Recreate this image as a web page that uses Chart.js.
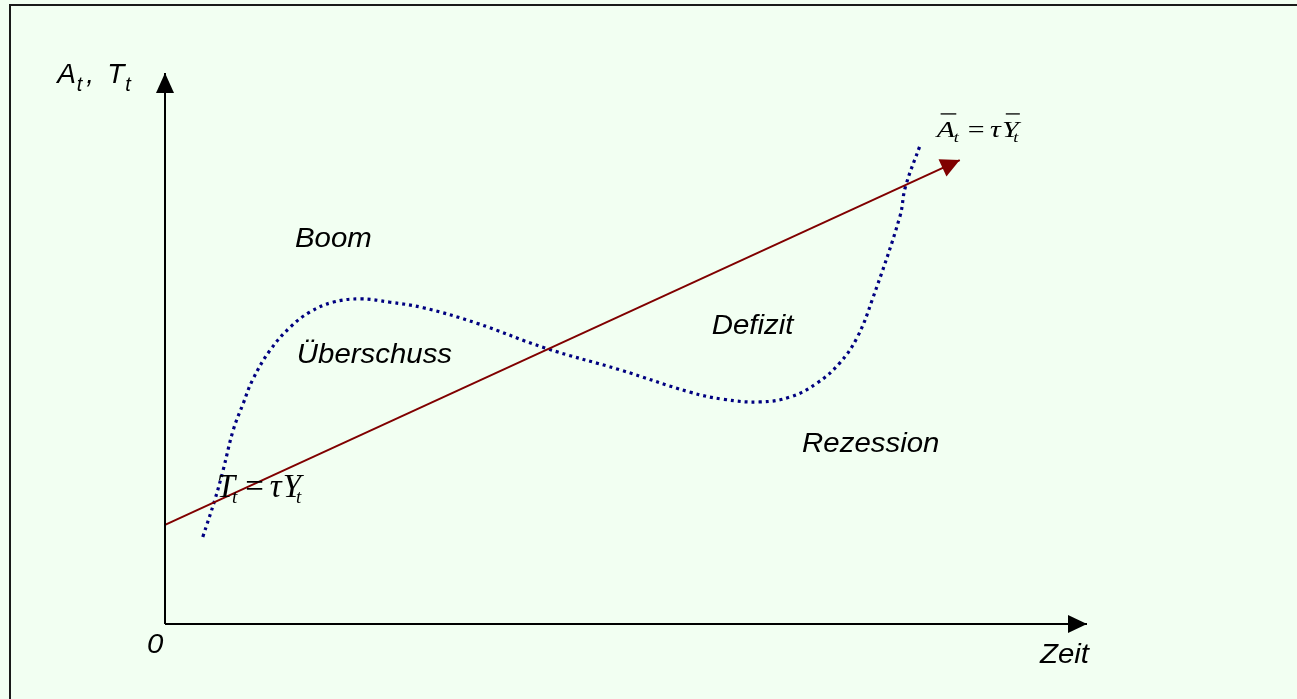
<!DOCTYPE html>
<html>
<head>
<meta charset="utf-8">
<title>Konjunkturzyklus</title>
<script src="https://cdn.jsdelivr.net/npm/chart.js@4/dist/chart.umd.min.js"></script>
<style>
  html, body { margin: 0; padding: 0; background: #f2fff2; overflow: hidden; }
  canvas { display: block; }
</style>
</head>
<body>
<canvas id="chart" width="1297" height="699"></canvas>
<script>
// Staatsausgaben A_t (Konjunktur) und Steuern T_t ueber die Zeit
var cycleX = [4.1, 5.4, 6.3, 7.4, 8.5, 9.5, 11.4, 13.6, 15.7, 18.2, 21.2, 24.4, 28.0, 33.8, 41.2, 49.4, 56.9, 60.5, 64.5, 67.8, 70.7, 73.2, 75.1, 76.7, 79.7, 80.3, 81.9];
var cycleY = [15.8, 22.5, 27.9, 35.2, 40.1, 44.3, 49.7, 53.9, 56.6, 58.4, 59.0, 58.4, 57.4, 54.6, 50.1, 46.1, 42.1, 40.8, 40.3, 41.2, 43.7, 47.4, 52.1, 58.8, 73.9, 79.3, 86.9];

var taxX = [0, 86.2];
var taxY = [18.0, 84.2];

// Achsen (Ursprung bis Pfeilspitze)
var xAxisX = [0, 100];
var xAxisY = [0, 0];
var yAxisX = [0, 0];
var yAxisY = [0, 100];

var regionLabels = ['Boom', 'Überschuss', 'Defizit', 'Rezession', '0', 'Zeit'];
var regionX = [14.1, 14.3, 59.3, 69.1, -1.95, 94.9];
var regionY = [68.4, 47.4, 52.6, 31.2, -5.3, -7.1];

function pts(xs, ys) {
  return xs.map(function(x, i) { return {x: x, y: ys[i]}; });
}

var SANS = '"Liberation Sans", Arial, sans-serif';
var SERIF = '"Liberation Serif", "Times New Roman", serif';

// Text aus Teilen (Index, Ueberstrich) hintereinander setzen
function drawParts(ctx, parts, x, y, sx) {
  sx = sx || 1;
  ctx.save();
  ctx.translate(x, y);
  ctx.scale(sx, 1);
  var cx = 0;
  parts.forEach(function(p) {
    ctx.font = p.font;
    var w = ctx.measureText(p.t).width;
    ctx.fillText(p.t, cx, p.dy || 0);
    if (p.bar) {
      ctx.beginPath();
      ctx.lineWidth = 1.3;
      ctx.moveTo(cx + 3, -p.bar);
      ctx.lineTo(cx + w + 1, -p.bar);
      ctx.stroke();
    }
    cx += w + (p.gap || 0);
  });
  ctx.restore();
}

function arrowHead(ctx, fx, fy, tx, ty, len, half, color) {
  var a = Math.atan2(ty - fy, tx - fx);
  ctx.save();
  ctx.translate(tx, ty);
  ctx.rotate(a);
  ctx.fillStyle = color;
  ctx.beginPath();
  ctx.moveTo(0, 0);
  ctx.lineTo(-len, -half);
  ctx.lineTo(-len, half);
  ctx.closePath();
  ctx.fill();
  ctx.restore();
}

var decor = {
  id: 'decor',
  beforeDraw: function(chart) {
    var ctx = chart.ctx;
    ctx.save();
    ctx.fillStyle = '#f2fff2';
    ctx.fillRect(0, 0, chart.width, chart.height);
    ctx.strokeStyle = '#1a1a1a';
    ctx.lineWidth = 2;
    ctx.beginPath();
    ctx.moveTo(10, chart.height);
    ctx.lineTo(10, 5);
    ctx.lineTo(chart.width, 5);
    ctx.stroke();
    ctx.restore();
  },
  afterDatasetsDraw: function(chart) {
    var ctx = chart.ctx, sx = chart.scales.x, sy = chart.scales.y;
    ctx.save();
    chart.data.datasets.forEach(function(ds) {
      if (!ds.arrow) return;
      var n = ds.data.length;
      var a = ds.data[n - 2], b = ds.data[n - 1];
      arrowHead(ctx, sx.getPixelForValue(a.x), sy.getPixelForValue(a.y),
        sx.getPixelForValue(b.x), sy.getPixelForValue(b.y),
        ds.arrow[0], ds.arrow[1], ds.borderColor);
    });

    ctx.fillStyle = '#000';
    ctx.textBaseline = 'alphabetic';
    regionLabels.forEach(function(t, i) {
      ctx.save();
      ctx.translate(sx.getPixelForValue(regionX[i]), sy.getPixelForValue(regionY[i]));
      ctx.scale(1.05, 1);
      ctx.font = 'italic 28px ' + SANS;
      ctx.fillText(t, 0, 0);
      ctx.restore();
    });

    var big = 'italic 28px ' + SANS, sub = 'italic 20px ' + SANS;
    drawParts(ctx, [
      {t: 'A', font: big, gap: 1},
      {t: 't', font: sub, dy: 8, gap: 4},
      {t: ',', font: big, gap: 13},
      {t: 'T', font: big, gap: 1},
      {t: 't', font: sub, dy: 8}
    ], sx.getPixelForValue(-11.7), sy.getPixelForValue(98.2));

    ctx.strokeStyle = '#000';
    drawParts(ctx, [
      {t: 'T', font: 'italic 33px ' + SERIF, gap: -3},
      {t: 't', font: 'italic 19px ' + SERIF, dy: 6, gap: 8},
      {t: '=', font: '33px ' + SERIF, gap: 6},
      {t: 'τ', font: 'italic 33px ' + SERIF, gap: 1},
      {t: 'Y', font: 'italic 33px ' + SERIF, gap: -5},
      {t: 't', font: 'italic 19px ' + SERIF, dy: 6}
    ], sx.getPixelForValue(5.6), sy.getPixelForValue(23.0));

    drawParts(ctx, [
      {t: 'A', font: 'italic 23px ' + SERIF, bar: 23, gap: -1},
      {t: 't', font: 'italic 14px ' + SERIF, dy: 5, gap: 7},
      {t: '=', font: '23px ' + SERIF, gap: 4},
      {t: 'τ', font: 'italic 23px ' + SERIF, gap: 1},
      {t: 'Y', font: 'italic 23px ' + SERIF, bar: 23, gap: -4},
      {t: 't', font: 'italic 14px ' + SERIF, dy: 5}
    ], sx.getPixelForValue(83.7), sy.getPixelForValue(88.4), 1.3);
    ctx.restore();
  }
};

new Chart(document.getElementById('chart'), {
  type: 'scatter',
  data: {
    datasets: [
      {
        label: 'Zeitachse',
        data: pts(xAxisX, xAxisY),
        showLine: true, borderColor: '#000000', borderWidth: 2,
        pointRadius: 0, arrow: [19, 9], clip: false
      },
      {
        label: 'Werteachse',
        data: pts(yAxisX, yAxisY),
        showLine: true, borderColor: '#000000', borderWidth: 2,
        pointRadius: 0, arrow: [20, 9], clip: false
      },
      {
        label: 'T = tau Y',
        data: pts(taxX, taxY),
        showLine: true, borderColor: '#800000', borderWidth: 2,
        pointRadius: 0, arrow: [19, 9.5], clip: false
      },
      {
        label: 'Konjunktur',
        data: pts(cycleX, cycleY),
        showLine: true, borderColor: '#000080', borderWidth: 3.2,
        borderDash: [3, 4], borderCapStyle: 'butt',
        tension: 0.4, pointRadius: 0, clip: false
      }
    ]
  },
  options: {
    responsive: false,
    animation: false,
    events: [],
    layout: { padding: { left: 165, right: 210, top: 73, bottom: 75 } },
    scales: {
      x: { type: 'linear', min: 0, max: 100, display: false },
      y: { type: 'linear', min: 0, max: 100, display: false }
    },
    plugins: {
      legend: { display: false },
      tooltip: { enabled: false }
    }
  },
  plugins: [decor]
});
</script>
</body>
</html>
